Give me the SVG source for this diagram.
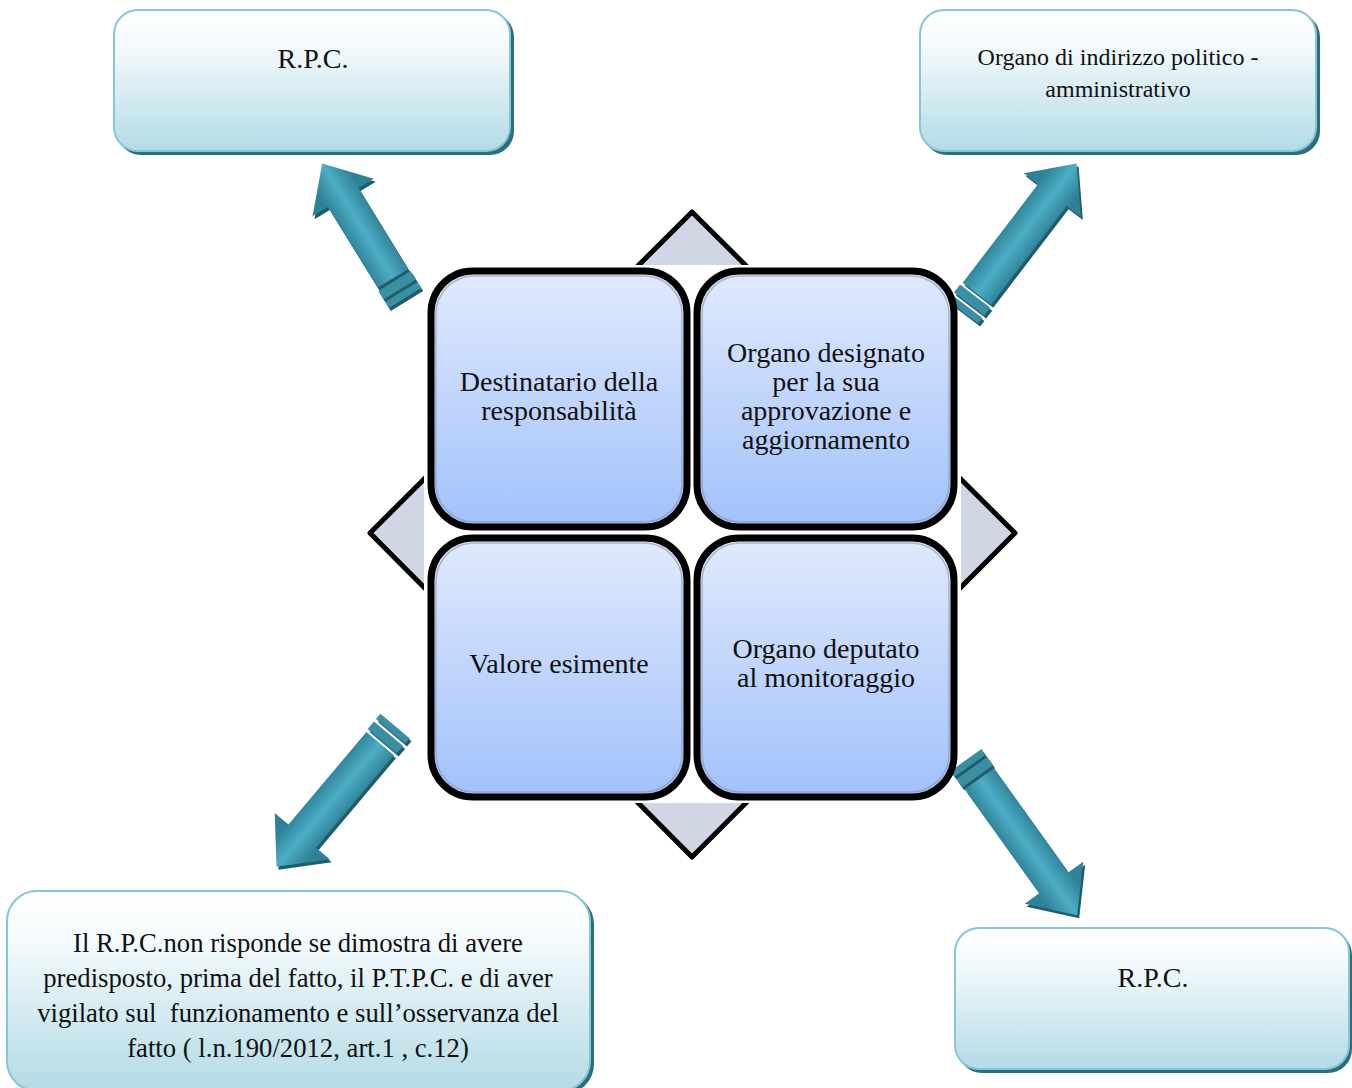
<svg xmlns="http://www.w3.org/2000/svg" width="1352" height="1088" viewBox="0 0 1352 1088">
  <style>
    .outer { fill: url(#outerFill); stroke: #86c6d6; stroke-width: 2; }
    .outerShadow { fill: #2b6e7e; }
    .core { fill: url(#coreFill); stroke: #000; stroke-width: 7; }
    .coreInner { fill: none; stroke: #8a93a6; stroke-width: 1.5; opacity: 0.6; }
    .lbl { font-family: "Liberation Serif", "Times New Roman", serif; fill: #111; text-anchor: middle; }
    .lblRpc { font-size: 28px; }
    .lblTr { font-size: 24px; }
    .lblBl { font-size: 26.7px; }
    .lblCore { font-size: 28px; }
    .arrowBody { fill: url(#arrowFill); }
    .arrowBand { fill: #3a8fa3; }
    .arrowShade { fill: #1f5d6b; }
  </style>
  <defs>
    <linearGradient id="outerFill" x1="0" y1="0" x2="0" y2="1">
      <stop offset="0" stop-color="#ffffff"/>
      <stop offset="0.25" stop-color="#f4fafc"/>
      <stop offset="1" stop-color="#b3dbe6"/>
    </linearGradient>
    <linearGradient id="coreFill" x1="0" y1="0" x2="0" y2="1">
      <stop offset="0" stop-color="#e0eafd"/>
      <stop offset="1" stop-color="#a2c1fb"/>
    </linearGradient>
    <linearGradient id="arrowFill" gradientUnits="userSpaceOnUse" x1="0" y1="-20" x2="0" y2="20">
      <stop offset="0" stop-color="#2f8197"/>
      <stop offset="0.5" stop-color="#4caec5"/>
      <stop offset="1" stop-color="#2f8197"/>
    </linearGradient>
  </defs>

  <!-- central diamond behind the four cells -->
  <g id="diamond">
    <polygon points="692,212 1015,533 692,857 370,533" fill="#d0d6e4" stroke="#000" stroke-width="5" stroke-linejoin="round"/>
    <rect x="424" y="265" width="537" height="538" fill="#ffffff"/>
  </g>

  <!-- arrows from the core to the outer boxes -->
  <g id="connectors">
    <!-- top-left -->
    <g transform="translate(405,298) rotate(-121.6)">
      <g transform="rotate(121.6) translate(2,3) rotate(-121.6)">
        <polygon class="arrowShade" points="23,-18 118,-18 118,-36 158,0 118,36 118,18 23,18"/>
        <rect class="arrowShade" x="0" y="-19" width="7" height="38"/>
        <rect class="arrowShade" x="10" y="-19" width="10" height="38"/>
      </g>
      <polygon class="arrowBody" points="23,-18 118,-18 118,-36 158,0 118,36 118,18 23,18"/>
      <rect class="arrowBand" x="0" y="-19" width="7" height="38"/>
      <rect class="arrowBand" x="10" y="-19" width="10" height="38"/>
    </g>
    <!-- top-right -->
    <g transform="translate(963,312) rotate(-52.6)">
      <g transform="rotate(52.6) translate(2,3) rotate(-52.6)">
        <polygon class="arrowShade" points="23,-18 147,-18 147,-36 187,0 147,36 147,18 23,18"/>
        <rect class="arrowShade" x="0" y="-19" width="7" height="38"/>
        <rect class="arrowShade" x="10" y="-19" width="10" height="38"/>
      </g>
      <polygon class="arrowBody" points="23,-18 147,-18 147,-36 187,0 147,36 147,18 23,18"/>
      <rect class="arrowBand" x="0" y="-19" width="7" height="38"/>
      <rect class="arrowBand" x="10" y="-19" width="10" height="38"/>
    </g>
    <!-- bottom-left -->
    <g transform="translate(395,726) rotate(130.1)">
      <g transform="rotate(-130.1) translate(2,3) rotate(130.1)">
        <polygon class="arrowShade" points="23,-18 144,-18 144,-36 184,0 144,36 144,18 23,18"/>
        <rect class="arrowShade" x="0" y="-19" width="7" height="38"/>
        <rect class="arrowShade" x="10" y="-19" width="10" height="38"/>
      </g>
      <polygon class="arrowBody" points="23,-18 144,-18 144,-36 184,0 144,36 144,18 23,18"/>
      <rect class="arrowBand" x="0" y="-19" width="7" height="38"/>
      <rect class="arrowBand" x="10" y="-19" width="10" height="38"/>
    </g>
    <!-- bottom-right -->
    <g transform="translate(966,760) rotate(54.4)">
      <g transform="rotate(-54.4) translate(2,3) rotate(54.4)">
        <polygon class="arrowShade" points="23,-18 151,-18 151,-36 191,0 151,36 151,18 23,18"/>
        <rect class="arrowShade" x="0" y="-19" width="7" height="38"/>
        <rect class="arrowShade" x="10" y="-19" width="10" height="38"/>
      </g>
      <polygon class="arrowBody" points="23,-18 151,-18 151,-36 191,0 151,36 151,18 23,18"/>
      <rect class="arrowBand" x="0" y="-19" width="7" height="38"/>
      <rect class="arrowBand" x="10" y="-19" width="10" height="38"/>
    </g>
  </g>

  <!-- four core cells -->
  <g id="cell-destinatario">
    <rect class="core" x="431" y="271" width="256" height="256" rx="42"/>
    <rect class="coreInner" x="436" y="276" width="246" height="246" rx="38"/>
    <text class="lbl lblCore" x="559" y="391">Destinatario della</text>
    <text class="lbl lblCore" x="559" y="420">responsabilità</text>
  </g>
  <g id="cell-organo-designato">
    <rect class="core" x="697" y="271" width="257" height="256" rx="42"/>
    <rect class="coreInner" x="702" y="276" width="247" height="246" rx="38"/>
    <text class="lbl lblCore" x="826" y="362">Organo designato</text>
    <text class="lbl lblCore" x="826" y="391">per la sua</text>
    <text class="lbl lblCore" x="826" y="420">approvazione e</text>
    <text class="lbl lblCore" x="826" y="449">aggiornamento</text>
  </g>
  <g id="cell-valore">
    <rect class="core" x="431" y="538" width="256" height="259" rx="42"/>
    <rect class="coreInner" x="436" y="543" width="246" height="249" rx="38"/>
    <text class="lbl lblCore" x="559" y="673">Valore esimente</text>
  </g>
  <g id="cell-organo-deputato">
    <rect class="core" x="697" y="538" width="257" height="259" rx="42"/>
    <rect class="coreInner" x="702" y="543" width="247" height="249" rx="38"/>
    <text class="lbl lblCore" x="826" y="658">Organo deputato</text>
    <text class="lbl lblCore" x="826" y="687">al monitoraggio</text>
  </g>

  <!-- outer boxes -->
  <g id="box-rpc-top">
    <rect class="outerShadow" x="117" y="13" width="397" height="142" rx="24"/>
    <rect class="outer" x="114" y="10" width="396" height="141" rx="24"/>
    <text class="lbl lblRpc" x="313" y="68">R.P.C.</text>
  </g>
  <g id="box-organo-indirizzo">
    <rect class="outerShadow" x="923" y="13" width="397" height="142" rx="24"/>
    <rect class="outer" x="920" y="10" width="396" height="141" rx="24"/>
    <text class="lbl lblTr" x="1118" y="65">Organo di indirizzo politico -</text>
    <text class="lbl lblTr" x="1118" y="97">amministrativo</text>
  </g>
  <g id="box-valore-esimente">
    <rect class="outerShadow" x="10" y="894" width="584" height="200" rx="30"/>
    <rect class="outer" x="7" y="891" width="583" height="200" rx="30"/>
    <text class="lbl lblBl" x="298" y="952">Il R.P.C.non risponde se dimostra di avere</text>
    <text class="lbl lblBl" x="298" y="987">predisposto, prima del fatto, il P.T.P.C. e di aver</text>
    <text class="lbl lblBl" x="298" y="1022" xml:space="preserve">vigilato sul  funzionamento e sull’osservanza del</text>
    <text class="lbl lblBl" x="298" y="1057">fatto ( l.n.190/2012, art.1 , c.12)</text>
  </g>
  <g id="box-rpc-bottom">
    <rect class="outerShadow" x="958" y="931" width="394" height="142" rx="24"/>
    <rect class="outer" x="955" y="928" width="394" height="141" rx="24"/>
    <text class="lbl lblRpc" x="1153" y="987">R.P.C.</text>
  </g>
</svg>
